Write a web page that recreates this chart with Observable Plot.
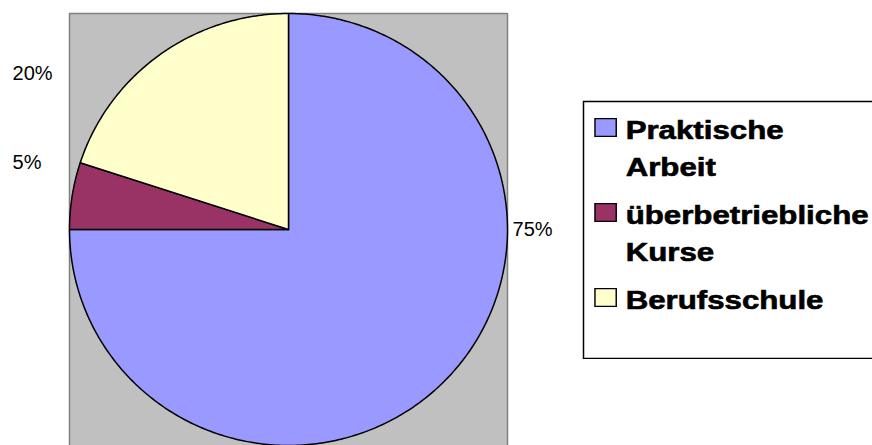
<!DOCTYPE html>
<html>
<head>
<meta charset="utf-8">
<script src="https://cdn.jsdelivr.net/npm/d3@7"></script>
<script src="https://cdn.jsdelivr.net/npm/@observablehq/plot@0.6"></script>
<style>
  html, body { margin: 0; padding: 0; background: #fff; }
  #wrap { position: relative; width: 872px; height: 445px; overflow: hidden; }
  #legend { position: absolute; left: 582px; top: 100px; width: 340px; }
  #legend svg { max-width: none !important; }
</style>
</head>
<body>
<div id="wrap"><div id="chart"></div><div id="legend"></div></div>
<script>
// ---- data ----
const categories = ["Praktische Arbeit", "überbetriebliche Kurse", "Berufsschule"];
const values = [75, 5, 20];
const percentLabels = ["75%", "5%", "20%"];
const legendLabels = ["Praktische\nArbeit", "überbetriebliche\nKurse", "Berufsschule"];
const colors = ["#9999FF", "#993366", "#FFFFCC"];

// ---- build table ----
const rows = categories.map((key, i) => ({key, value: values[i], label: percentLabels[i], legend: legendLabels[i]}));

// pie geometry (angles clockwise from 12 o'clock, unit circle)
const arcs = d3.pie().sort(null).value(d => d.value)(rows);
const points = [];
arcs.forEach(a => {
  const k = a.data.key;
  points.push({key: k, x: 0, y: 0});
  const n = Math.max(8, Math.ceil((a.endAngle - a.startAngle) * 80));
  for (let i = 0; i <= n; i++) {
    const t = a.startAngle + (a.endAngle - a.startAngle) * i / n;
    points.push({key: k, x: Math.sin(t), y: Math.cos(t)});
  }
  points.push({key: k, x: 0, y: 0});
});

// label placement (layout, in pie units)
const labelPlace = {
  "Praktische Arbeit": [1.023, 0],
  "überbetriebliche Kurse": [-1.26, 0.31],
  "Berufsschule": [-1.26, 0.722]
};

const chart = Plot.plot({
  width: 872,
  height: 445,
  marginLeft: 69,
  marginRight: 365,
  marginTop: 13,
  marginBottom: 0,
  x: {domain: [-1, 1], axis: null},
  y: {domain: [-1, 1], axis: null},
  color: {domain: categories, range: colors},
  style: {fontFamily: "'Liberation Sans', Arial, sans-serif", background: "white"},
  marks: [
    Plot.frame({fill: "#C0C0C0", stroke: "none"}),
    Plot.ruleX([-1, 1], {stroke: "#808080", strokeWidth: 1.5}),
    Plot.ruleY([1], {stroke: "#808080", strokeWidth: 1.5}),
    Plot.line(points, {x: "x", y: "y", z: "key", fill: "key", stroke: "black", strokeWidth: 1.5, strokeLinejoin: "round"}),
    Plot.text(rows, {
      x: d => labelPlace[d.key][0],
      y: d => labelPlace[d.key][1],
      text: "label",
      textAnchor: "start",
      fontSize: 20,
      fill: "black"
    })
  ]
});
document.getElementById("chart").appendChild(chart);

const legend = Plot.plot({
  width: 320,
  height: 259,
  margin: 0,
  y: {type: "point", domain: categories, range: [27, 197], padding: 0, axis: null},
  color: {domain: categories, range: colors},
  style: {fontFamily: "'Liberation Sans', Arial, sans-serif", background: "white"},
  marks: [
    Plot.frame({stroke: "black", strokeWidth: 1.5, inset: 1}),
    Plot.dot(rows, {y: "key", fill: "key", symbol: "square", r: 10, stroke: "black", strokeWidth: 1.2, frameAnchor: "left", dx: 23}),
    Plot.text(rows, {
      y: "key",
      text: "legend",
      frameAnchor: "left",
      dx: 43,
      dy: -14,
      textAnchor: "start",
      lineAnchor: "top",
      lineHeight: 1.46,
      fontSize: 25,
      fontWeight: "bold",
      fill: "black",
      stroke: "black",
      strokeWidth: 0.6
    })
  ]
});
legend.style.maxWidth = "none";
document.getElementById("legend").appendChild(legend);

// horizontal stretch of the legend (text and swatches), as in the original rendering
function stretch(sel, s, x0) {
  const g = legend.querySelector(sel);
  if (!g) return;
  const prev = g.getAttribute("transform") || "";
  g.setAttribute("transform", `matrix(${s},0,0,1,${-(s - 1) * x0},0) ${prev}`);
}
stretch('g[aria-label="text"]', 1.25, 43);
stretch('g[aria-label="dot"]', 1.2, 23);
</script>
</body>
</html>
